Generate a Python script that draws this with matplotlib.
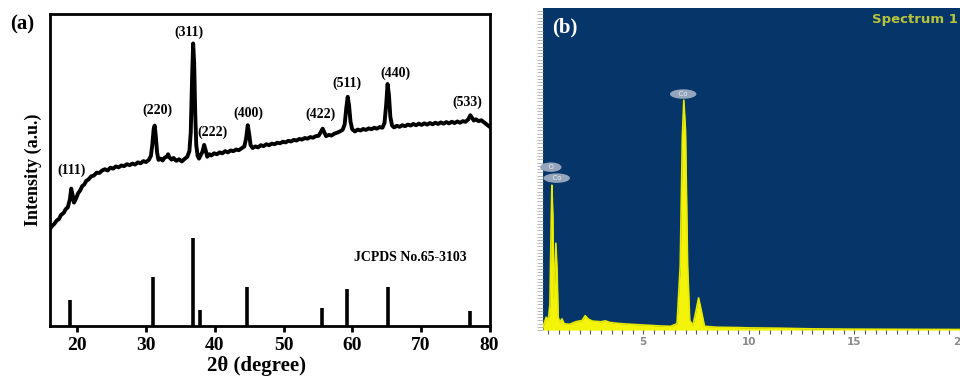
import numpy as np
import matplotlib
matplotlib.use("Agg")
import matplotlib.pyplot as plt

# XRD pattern (a), intensity in arbitrary units (0-100 over the axes height)
xrd_theta = [16.0, 16.3, 16.6, 17.0, 17.3, 17.6, 18.0, 18.3, 18.6, 18.9, 19.1, 19.3, 19.5, 19.8,
             20.1, 20.4, 20.7, 21.0, 21.3, 21.6, 22.0, 22.4, 22.8, 23.2, 23.6, 24.0, 24.4, 24.8,
             25.2, 25.6, 26.0, 26.4, 26.8, 27.2, 27.6, 28.0, 28.4, 28.8, 29.2, 29.6, 30.0, 30.4,
             30.7, 30.9, 31.1, 31.25, 31.4, 31.6, 31.8, 32.1, 32.4, 32.7, 33.0, 33.2, 33.4, 33.7,
             34.0, 34.4, 34.8, 35.2, 35.6, 36.0, 36.3, 36.5, 36.7, 36.85, 37.0, 37.15, 37.3, 37.5,
             37.7, 37.9, 38.2, 38.45, 38.7, 38.9, 39.2, 39.5, 39.9, 40.3, 40.7, 41.1, 41.5, 41.9,
             42.3, 42.7, 43.1, 43.5, 43.9, 44.3, 44.55, 44.8, 45.0, 45.2, 45.5, 45.9, 46.3, 46.7,
             47.1, 47.5, 47.9, 48.3, 48.7, 49.1, 49.5, 49.9, 50.3, 50.7, 51.1, 51.5, 51.9, 52.3,
             52.7, 53.1, 53.5, 53.9, 54.3, 54.7, 55.1, 55.4, 55.7, 55.95, 56.2, 56.6, 57.0, 57.4,
             57.8, 58.2, 58.6, 58.9, 59.15, 59.35, 59.55, 59.75, 60.0, 60.4, 60.8, 61.2, 61.6, 62.0,
             62.4, 62.8, 63.2, 63.6, 64.0, 64.4, 64.7, 64.95, 65.15, 65.35, 65.55, 65.8, 66.1, 66.5,
             66.9, 67.3, 67.7, 68.1, 68.5, 68.9, 69.3, 69.7, 70.1, 70.5, 70.9, 71.3, 71.7, 72.1,
             72.5, 72.9, 73.3, 73.7, 74.1, 74.5, 74.9, 75.3, 75.7, 76.1, 76.5, 76.9, 77.2, 77.4,
             77.7, 78.0, 78.4, 78.8, 79.2, 79.6, 80.0]
xrd_int = [31.0, 32.0, 32.6, 33.8, 34.2, 35.5, 36.2, 37.4, 38.0, 40.5, 44.0, 42.0, 39.5, 40.8,
           42.5, 43.4, 44.8, 45.3, 46.5, 46.9, 47.9, 48.2, 49.1, 49.0, 49.8, 50.2, 49.8, 50.7,
           50.4, 51.1, 50.8, 51.4, 51.2, 51.8, 51.5, 52.0, 51.7, 52.4, 52.1, 52.8, 52.5, 53.2,
           54.5, 58.0, 63.0, 64.2, 61.0, 55.5, 53.2, 53.6, 53.0, 53.9, 54.2, 55.0, 54.0, 53.3,
           53.8, 52.9, 53.4, 52.7, 53.5, 54.2, 56.0, 62.0, 80.0, 90.5, 84.0, 68.0, 58.0, 54.5,
           53.6, 54.5, 55.8, 58.0, 56.0, 54.2, 55.0, 54.6, 55.3, 55.0, 55.6, 55.3, 56.0, 55.6,
           56.2, 56.0, 56.5, 56.3, 56.9, 57.5, 60.0, 64.3, 61.5, 58.0, 57.0, 57.5, 57.2, 57.9,
           57.6, 58.2, 57.9, 58.4, 58.2, 58.7, 58.5, 59.0, 58.8, 59.3, 59.1, 59.6, 59.4, 59.9,
           59.7, 60.2, 60.0, 60.5, 60.3, 60.8, 60.9, 62.0, 63.2, 62.0, 60.8, 61.2, 61.0, 61.6,
           61.9, 62.3, 62.8, 64.5, 70.0, 73.4, 70.5, 65.5, 63.0, 62.3, 62.9, 62.6, 63.1, 62.8,
           63.3, 63.0, 63.5, 63.2, 63.7, 63.5, 65.0, 71.0, 77.5, 74.0, 67.0, 64.2, 63.6, 64.1,
           63.8, 64.3, 64.0, 64.5, 64.2, 64.7, 64.3, 64.8, 64.4, 64.9, 64.5, 65.0, 64.6, 65.1,
           64.7, 65.2, 64.8, 65.3, 64.9, 65.4, 65.0, 65.5, 65.1, 65.6, 65.4, 66.2, 67.5, 66.8,
           65.8, 66.2, 65.6, 65.9, 65.2, 64.5, 63.8]

# JCPDS No.65-3103 reference lines
ref_pos = [18.9, 31.0, 36.8, 37.9, 44.7, 55.6, 59.3, 65.2, 77.2]
ref_h = [8.3, 15.7, 28.2, 5.1, 12.5, 5.8, 11.9, 12.5, 4.8]

# hkl labels (x, y in data units)
hkl_txt = ["(111)", "(220)", "(311)", "(222)", "(400)", "(422)", "(511)", "(440)", "(533)"]
hkl_x = [19.2, 31.6, 36.3, 39.7, 44.9, 55.4, 59.3, 66.3, 76.7]
hkl_y = [50.0, 69.0, 94.2, 62.2, 68.2, 67.9, 77.6, 81.0, 71.5]

# EDS spectrum (b), energy in keV, counts in arbitrary units
eds_e = [0.25, 0.3, 0.4, 0.5, 0.58, 0.63, 0.67, 0.72, 0.76, 0.8, 0.86, 0.92, 0.97, 1.05,
         1.15, 1.25, 1.5, 1.8, 2.1, 2.25, 2.4, 2.6, 3.0, 3.2, 3.4, 3.8, 4.2, 5.0, 5.8, 6.3,
         6.6, 6.75, 6.85, 6.92, 7.0, 7.1, 7.2, 7.35, 7.5, 7.62, 7.75, 7.9, 8.5, 9.5, 10.0,
         11.5, 13.0, 15.0, 20.0]
eds_c = [1.0, 2.0, 4.0, 3.0, 8.0, 30.0, 45.0, 35.0, 10.0, 15.0, 27.0, 18.0, 4.0, 2.5,
         3.5, 2.0, 1.8, 2.6, 3.0, 4.5, 3.4, 2.8, 2.6, 2.9, 2.4, 2.1, 1.9, 1.6, 1.3, 1.2,
         2.0, 20.0, 60.0, 71.4, 62.0, 20.0, 3.0, 1.5, 6.0, 10.0, 6.0, 1.2, 0.9, 0.8, 0.7,
         0.6, 0.4, 0.3, 0.2]
eds_lbl = ["Co", "O", "Co"]
eds_lbl_x = [6.89, 0.62, 0.9]
eds_lbl_y = [73.3, 50.6, 47.2]

serif = "Liberation Serif"

fig = plt.figure(figsize=(9.6, 3.83), dpi=100)

# ---- panel (a)
ax = fig.add_axes([0.052, 0.149, 0.458, 0.815])
ax.plot(xrd_theta, xrd_int, color="black", lw=2.8)
ax.vlines(ref_pos, 0, ref_h, color="black", lw=2.6)
for t, x, y in zip(hkl_txt, hkl_x, hkl_y):
    ax.text(x, y, t, ha="center", va="center", fontsize=10, fontweight="bold", family=serif)
ax.text(68.5, 21.8, "JCPDS No.65-3103", ha="center", va="center", fontsize=10,
        fontweight="bold", family=serif)
ax.set_xlim(16, 80)
ax.set_ylim(0, 100)
ax.set_xticks([20, 30, 40, 50, 60, 70, 80])
ax.set_yticks([])
ax.tick_params(axis="x", direction="out", length=4, width=2, pad=4)
for lab in ax.get_xticklabels():
    lab.set_fontfamily(serif)
    lab.set_fontweight("bold")
    lab.set_fontsize(14)
for sp in ax.spines.values():
    sp.set_linewidth(2)
ax.set_xlabel("2θ (degree)", fontsize=15, fontweight="bold", family=serif)
ax.xaxis.set_label_coords(0.47, -0.095)
ax.set_ylabel("Intensity (a.u.)", fontsize=13, fontweight="bold", family=serif, labelpad=6)
fig.text(0.0104, 0.935, "(a)", fontsize=15, fontweight="bold", family=serif, va="center")

# ---- panel (b)
bx = fig.add_axes([0.5656, 0.138, 0.4344, 0.841])
bx.set_facecolor("#06356a")
bx.fill_between(eds_e, 0, eds_c, color="#f4f40a", lw=0)
bx.plot(eds_e, eds_c, color="#e8ea00", lw=1.2)
for t, x, y in zip(eds_lbl, eds_lbl_x, eds_lbl_y):
    bx.text(x, y, "  " + t + "  ", ha="center", va="center", fontsize=5, color="#e6ecf4",
            bbox=dict(boxstyle="ellipse,pad=0.05", fc="#95a5bb", ec="none"))
bx.text(0.022, 0.94, "(b)", transform=bx.transAxes, fontsize=15, fontweight="bold",
        family=serif, color="white", va="center")
bx.text(0.79, 0.985, "Spectrum 1", transform=bx.transAxes, fontsize=9.5, fontweight="bold",
        color="#b5c43a", va="top", ha="left")
bx.set_xlim(0.25, 20)
bx.set_ylim(0, 100)
bx.set_xticks([5, 10, 15, 20])
bx.set_xticks(np.arange(0.5, 20, 0.5), minor=True)
bx.set_yticks(np.arange(0, 100, 1.0), minor=True)
bx.set_yticks([])
bx.tick_params(axis="x", which="both", direction="out", length=3, width=0.8, color="#555555",
               labelsize=7.5, labelcolor="#8a8a8a", pad=2)
bx.tick_params(axis="y", which="minor", direction="out", length=4.5, width=0.5, color="#a0a0a0")
for lab in bx.get_xticklabels():
    lab.set_fontweight("bold")
for sp in bx.spines.values():
    sp.set_visible(False)

fig.savefig("out.png", dpi=100)
